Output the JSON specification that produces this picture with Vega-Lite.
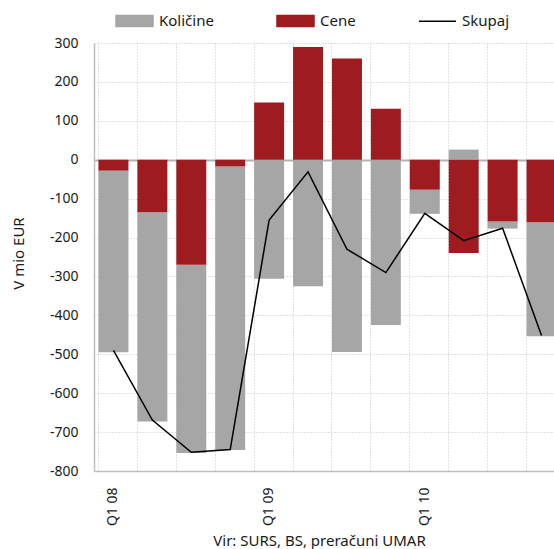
{
  "$schema": "https://vega.github.io/schema/vega-lite/v6.json",
  "autosize": "none",
  "width": 460,
  "height": 428,
  "padding": {"left": 94, "top": 43, "right": 0, "bottom": 78},
  "background": "white",
  "config": {
    "font": "Noto Sans",
    "view": {"stroke": null},
    "axis": {"labelColor": "#1a1a1a", "titleColor": "#1a1a1a", "labelFont": "Noto Sans", "titleFont": "Noto Sans"},
    "legend": {"labelFont": "Noto Sans"}
  },
  "data": {
    "values": [
      {"q": "Q1 08", "series": "Količine", "value": -467},
      {"q": "Q1 08", "series": "Cene", "value": -28},
      {"q": "Q2 08", "series": "Količine", "value": -538},
      {"q": "Q2 08", "series": "Cene", "value": -135},
      {"q": "Q3 08", "series": "Količine", "value": -484},
      {"q": "Q3 08", "series": "Cene", "value": -270},
      {"q": "Q4 08", "series": "Količine", "value": -729},
      {"q": "Q4 08", "series": "Cene", "value": -17},
      {"q": "Q1 09", "series": "Količine", "value": -306},
      {"q": "Q1 09", "series": "Cene", "value": 147},
      {"q": "Q2 09", "series": "Količine", "value": -325},
      {"q": "Q2 09", "series": "Cene", "value": 290},
      {"q": "Q3 09", "series": "Količine", "value": -494},
      {"q": "Q3 09", "series": "Cene", "value": 260},
      {"q": "Q4 09", "series": "Količine", "value": -425},
      {"q": "Q4 09", "series": "Cene", "value": 131},
      {"q": "Q1 10", "series": "Količine", "value": -62},
      {"q": "Q1 10", "series": "Cene", "value": -77},
      {"q": "Q2 10", "series": "Količine", "value": 26},
      {"q": "Q2 10", "series": "Cene", "value": -240},
      {"q": "Q3 10", "series": "Količine", "value": -18},
      {"q": "Q3 10", "series": "Cene", "value": -159},
      {"q": "Q4 10", "series": "Količine", "value": -293},
      {"q": "Q4 10", "series": "Cene", "value": -161},
      {"q": "Q1 08", "series": "Skupaj", "value": -490},
      {"q": "Q2 08", "series": "Skupaj", "value": -669},
      {"q": "Q3 08", "series": "Skupaj", "value": -752},
      {"q": "Q4 08", "series": "Skupaj", "value": -745},
      {"q": "Q1 09", "series": "Skupaj", "value": -155},
      {"q": "Q2 09", "series": "Skupaj", "value": -31},
      {"q": "Q3 09", "series": "Skupaj", "value": -230},
      {"q": "Q4 09", "series": "Skupaj", "value": -290},
      {"q": "Q1 10", "series": "Skupaj", "value": -138},
      {"q": "Q2 10", "series": "Skupaj", "value": -208},
      {"q": "Q3 10", "series": "Skupaj", "value": -176},
      {"q": "Q4 10", "series": "Skupaj", "value": -452}
    ]
  },
  "encoding": {
    "x": {
      "field": "q",
      "type": "nominal",
      "sort": null,
      "scale": {
        "domain": ["Q1 08", "Q2 08", "Q3 08", "Q4 08", "Q1 09", "Q2 09", "Q3 09", "Q4 09", "Q1 10", "Q2 10", "Q3 10", "Q4 10"],
        "range": [0, 467],
        "paddingInner": 0.23,
        "paddingOuter": 0.115
      },
      "axis": {
        "title": "Vir: SURS, BS, preračuni UMAR",
        "titleFontSize": 15,
        "titleFontWeight": "normal",
        "titleX": 225,
        "titleY": 69,
        "titleBaseline": "middle",
        "labelAngle": 270,
        "labelFontSize": 14,
        "labelPadding": 16,
        "labelExpr": "indexof(datum.label, 'Q1') === 0 ? datum.label : ''",
        "ticks": false,
        "domainColor": "#bfbfbf",
        "domainWidth": 1.5,
        "grid": true,
        "bandPosition": 0,
        "gridColor": "#c4c4c4",
        "gridDash": [1, 2],
        "gridWidth": 1
      }
    },
    "y": {
      "field": "value",
      "type": "quantitative",
      "scale": {"domain": [-800, 300], "nice": false, "zero": false},
      "axis": {
        "title": "V mio EUR",
        "titleFontSize": 15,
        "titleFontWeight": "normal",
        "titleX": -76,
        "titleY": 210,
        "titleAngle": 270,
        "titleAlign": "center",
        "titleBaseline": "middle",
        "values": [-800, -700, -600, -500, -400, -300, -200, -100, 0, 100, 200, 300],
        "labelOverlap": false,
        "labelExpr": "'' + datum.value",
        "labelFontSize": 14,
        "labelPadding": 16,
        "ticks": false,
        "domainColor": "#bfbfbf",
        "domainWidth": 1.5,
        "grid": true,
        "gridColor": {"condition": {"test": "datum.value === 0", "value": "#b3b3b3"}, "value": "#c4c4c4"},
        "gridDash": {"condition": {"test": "datum.value === 0", "value": []}, "value": [1, 2]},
        "gridWidth": {"condition": {"test": "datum.value === 0", "value": 2}, "value": 1}
      }
    }
  },
  "layer": [
    {
      "transform": [{"filter": "datum.series !== 'Skupaj'"}],
      "mark": {"type": "bar"},
      "encoding": {
        "color": {
          "field": "series",
          "type": "nominal",
          "scale": {"domain": ["Količine", "Cene", "Skupaj"], "range": ["#a6a6a6", "#9e1b20", "#000000"]},
          "legend": {
            "title": null,
            "orient": "none",
            "legendX": 21,
            "legendY": -42,
            "direction": "horizontal",
            "labelFontSize": 15,
            "labelColor": "#1a1a1a",
            "labelOffset": 5,
            "columnPadding": 60,
            "symbolSize": 1369,
            "symbolStrokeWidth": 1.5,
            "encode": {
              "symbols": {
                "update": {
                  "shape": {"signal": "datum.value === 'Skupaj' ? 'M-1,0L1,0' : 'M-1,-0.3L1,-0.3L1,0.3L-1,0.3Z'"},
                  "fill": {"signal": "datum.value === 'Skupaj' ? 'transparent' : (datum.value === 'Cene' ? '#9e1b20' : '#a6a6a6')"},
                  "stroke": {"signal": "datum.value === 'Skupaj' ? '#000000' : 'transparent'"},
                  "strokeWidth": {"value": 1.5},
                  "opacity": {"value": 1}
                }
              }
            }
          }
        },
        "order": {"field": "series", "sort": "ascending"}
      }
    },
    {
      "transform": [{"filter": "datum.series === 'Skupaj'"}],
      "mark": {"type": "line", "strokeWidth": 1.5},
      "encoding": {
        "color": {"field": "series", "type": "nominal"}
      }
    }
  ]
}
